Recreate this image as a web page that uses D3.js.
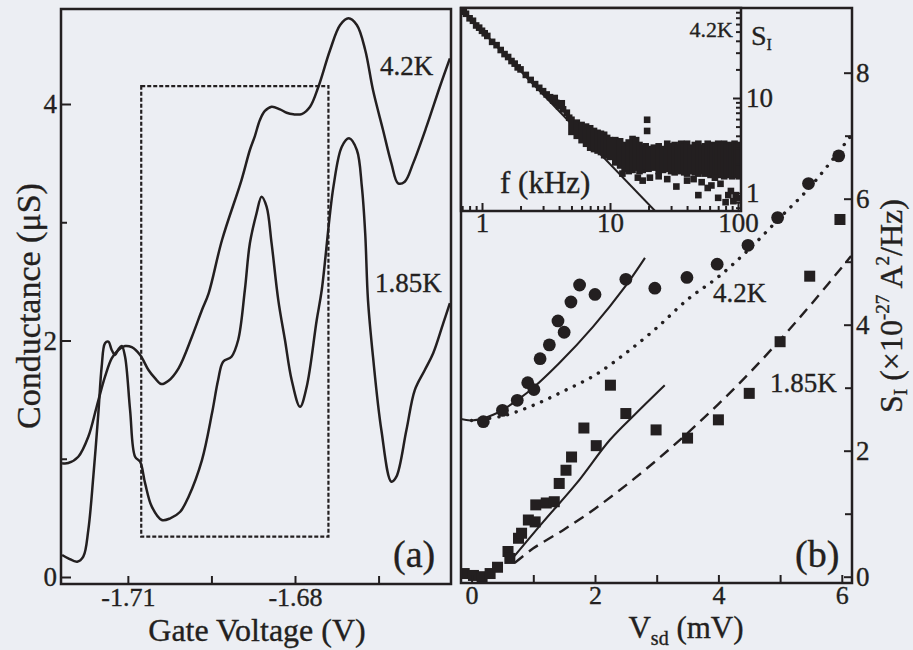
<!DOCTYPE html>
<html>
<head>
<meta charset="utf-8">
<script src="https://cdn.jsdelivr.net/npm/d3@7"></script>
<style>
  html, body { margin: 0; padding: 0; background: #eceef3; }
  svg { display: block; }
  text { font-family: "Liberation Serif", "Times New Roman", Tinos, "DejaVu Serif", serif; fill: #231f20; stroke: #231f20; stroke-width: 0.35px; }
</style>
</head>
<body>
<svg width="913" height="650"></svg>
<script>
// ---- panel (a): conductance vs gate voltage ----
const gate42 = [-1.7218,-1.7207,-1.7189,-1.7171,-1.7156,-1.7141,-1.7129,-1.7117,-1.7105,-1.7093,-1.7078,-1.7063,-1.7051,-1.7040,-1.7027,-1.7009,-1.6985,-1.6967,-1.6955,-1.6931,-1.6896,-1.6881,-1.6872,-1.6863,-1.6854,-1.6842,-1.6827,-1.6815,-1.6803,-1.6788,-1.6773,-1.6758,-1.6737,-1.6719,-1.6704,-1.6689,-1.6674,-1.6660,-1.6642,-1.6627,-1.6615,-1.6603,-1.6588,-1.6564,-1.6540,-1.6522];
const cond42 = [0.962,0.964,1.017,1.186,1.440,1.694,1.849,1.920,1.953,1.943,1.877,1.751,1.680,1.632,1.660,1.765,2.032,2.258,2.399,2.850,3.357,3.611,3.729,3.865,3.941,3.977,3.955,3.926,3.913,3.915,3.977,4.146,4.457,4.668,4.725,4.668,4.457,4.118,3.780,3.498,3.329,3.343,3.498,3.808,4.146,4.386];

const gate185 = [-1.7218,-1.7207,-1.7191,-1.7180,-1.7171,-1.7162,-1.7153,-1.7147,-1.7141,-1.7135,-1.7129,-1.7123,-1.7117,-1.7111,-1.7105,-1.7096,-1.7087,-1.7078,-1.7069,-1.7057,-1.7039,-1.7024,-1.7006,-1.6991,-1.6967,-1.6949,-1.6938,-1.6929,-1.6914,-1.6902,-1.6890,-1.6881,-1.6869,-1.6860,-1.6851,-1.6842,-1.6830,-1.6818,-1.6806,-1.6791,-1.6779,-1.6761,-1.6752,-1.6731,-1.6716,-1.6703,-1.6689,-1.6680,-1.6674,-1.6669,-1.6660,-1.6645,-1.6627,-1.6618,-1.6600,-1.6585,-1.6567,-1.6552,-1.6534,-1.6522];
const cond185 = [0.186,0.158,0.129,0.172,0.397,0.848,1.384,1.778,1.976,1.990,1.920,1.877,1.926,1.953,1.863,1.412,1.017,0.975,0.792,0.595,0.482,0.496,0.552,0.679,0.989,1.384,1.666,1.821,1.863,2.004,2.427,2.822,3.076,3.216,3.132,2.822,2.342,2.004,1.666,1.440,1.609,2.173,2.427,3.301,3.639,3.710,3.611,3.301,2.907,2.342,1.863,1.243,0.806,0.848,1.243,1.581,1.751,1.892,2.145,2.315];

const boxGate = [-1.7076, -1.6740];
const boxCond = [0.341, 4.152];

// ---- panel (b): noise vs source-drain bias ----
const circ42V = [0.19,0.50,0.74,0.91,1.01,1.11,1.26,1.40,1.50,1.61,1.75,2.00,2.50,2.97,3.49,3.98,4.48,4.96,5.46,5.95];
const circ42S = [2.46,2.64,2.80,3.08,2.97,3.46,3.68,4.06,3.88,4.36,4.63,4.48,4.72,4.58,4.75,4.96,5.26,5.70,6.24,6.68];

const sq185V = [-0.12,0.03,0.17,0.30,0.42,0.59,0.62,0.76,0.81,0.92,1.03,1.04,1.21,1.34,1.42,1.53,1.62,1.82,2.02,2.25,2.50,2.99,3.50,4.00,4.50,5.00,5.48,5.97];
const sq185S = [0.05,0.02,0.00,0.05,0.15,0.40,0.29,0.61,0.69,0.90,0.87,1.14,1.17,1.19,1.48,1.69,1.90,2.36,2.08,3.04,2.59,2.33,2.20,2.49,2.91,3.73,4.77,5.67];

const fit42V = [-0.2,0,0.35,0.9,1.43,1.97,2.5,2.81];
const fit42S = [2.51,2.48,2.57,2.92,3.40,3.97,4.62,5.06];
const dot42V = [0,0.5,1.0,1.5,2.0,2.5,3.0,3.5,4.0,4.5,5.0,5.5,6.15];
const dot42S = [2.48,2.55,2.72,2.95,3.2,3.55,3.95,4.4,4.76,5.2,5.7,6.2,7.0];
const fit185V = [0.62,1.16,1.70,2.24,2.65,3.13];
const fit185S = [0.24,0.87,1.48,2.17,2.58,3.04];
const dash185V = [0.7,1.0,1.5,2.0,2.5,3.0,3.5,4.0,4.5,5.0,5.5,6.15];
const dash185S = [0.22,0.45,0.75,1.08,1.45,1.85,2.28,2.74,3.23,3.76,4.32,5.09];

// ---- inset: spectrum at 4.2K ----
const powerF = [0.673, 22.5];
const powerS = [88.6, 0.647];
const insetLowF = [0.68,0.72,0.75,0.8,0.85,0.9,0.95,1.0,1.05,1.1,1.2,1.3,1.4,1.5,1.6,1.7,1.8,1.9,2.0,2.2,2.4,2.6,2.8,3.0,3.2,3.4,3.6,3.7,3.8,4.0,4.2,4.3,4.6,4.8];
const insetLowS = [88,81,77,69,65,58,55,51,48,45,39,36,32,29,27,24.5,23,21,20,17.5,15.5,14,12.8,11.8,10.9,10.2,9.4,10.0,8.9,8.2,8.8,7.6,7.0,6.2];
const bandF = [5,5.5,6,6.5,7,7.5,8,8.5,9,9.5,10,11,12,13,14,15,16,17,18,19,20,22,24,26,28,30,32,34,36,38,40,43,46,49,52,55,58,61,64,67,70,74,78,82,86,90,94,98,102];
const bandHi = [5.9,5.5,5.2,5.0,4.8,4.5,4.3,4.2,4.1,3.8,3.6,3.6,3.5,3.2,3.4,3.7,3.6,3.2,3.0,3.1,2.9,3.0,3.1,2.9,3.3,3.1,3.2,3.0,3.3,3.1,3.3,3.0,3.2,3.3,3.0,3.1,3.3,3.0,3.2,3.1,3.3,3.0,3.3,3.1,3.2,3.0,3.3,3.1,3.2];
const bandLo = [4.4,4.0,3.6,3.3,3.0,2.9,2.8,2.7,2.5,2.5,2.4,2.1,1.95,1.8,1.7,1.75,1.85,1.7,1.75,1.9,1.8,1.85,1.7,1.75,1.8,1.7,1.65,1.75,1.7,1.65,1.6,1.7,1.65,1.6,1.7,1.6,1.65,1.55,1.6,1.7,1.55,1.6,1.5,1.6,1.55,1.5,1.6,1.55,1.5];
const strayF = [19.5,19.5,12.5,16.5,18,20.5,24,28,33,40,45,49,52,58,62,66,70,73,80,84,88,92,96,99];
const strayS = [5.9,4.5,1.6,1.45,1.35,1.45,1.5,1.4,1.17,1.35,1.4,0.95,1.3,1.13,1.2,1.45,0.89,1.25,0.8,0.95,1.05,0.82,0.95,0.88];

const ink = '#231f20';
const $svg = d3.select('svg');
$svg.append('rect').attr('width', 913).attr('height', 650).attr('fill', '#eceef3');

function styleAxis(g, size) {
    g.select('.domain').remove();
    g.attr('font-family', null).attr('font-size', size);
    g.selectAll('.tick line').attr('stroke', ink).attr('stroke-width', 2);
    g.selectAll('.tick text').attr('fill', ink);
}

function addClip(id, f) {
    $svg.append('clipPath').attr('id', id).append('rect')
        .attr('x', f.l).attr('y', f.t).attr('width', f.r - f.l).attr('height', f.b - f.t);
}

// ================= panel (a) =================
const fa = {l: 61, r: 451, t: 9, b: 584};
const xA = d3.scaleLinear().domain([-1.7220, -1.6520]).range([fa.l, fa.r]);
const yA = d3.scaleLinear().domain([0, 4]).range([577, 104]);
addClip('clipA', fa);

const lineA = d3.line().curve(d3.curveCatmullRom.alpha(0.5))
    .x(d => xA(d[0])).y(d => yA(d[1]));
const $a = $svg.append('g');
const $aData = $a.append('g').attr('clip-path', 'url(#clipA)');

$aData.append('rect')
    .attr('x', xA(boxGate[0])).attr('y', yA(boxCond[1]))
    .attr('width', xA(boxGate[1]) - xA(boxGate[0]))
    .attr('height', yA(boxCond[0]) - yA(boxCond[1]))
    .attr('fill', 'none').attr('stroke', ink).attr('stroke-width', 2.2)
    .attr('stroke-dasharray', '4,2');

[[gate42, cond42], [gate185, cond185]].forEach(([g, c]) => {
    $aData.append('path').datum(d3.zip(g, c)).attr('d', lineA)
        .attr('fill', 'none').attr('stroke', ink).attr('stroke-width', 2.5)
        .attr('stroke-linejoin', 'round');
});

$a.append('g').attr('transform', `translate(0,${fa.b})`)
    .call(d3.axisBottom(xA).tickValues([-1.71, -1.695, -1.68, -1.665]).tickSize(-8).tickPadding(4)
        .tickFormat(d => (d === -1.71 || d === -1.68) ? d.toFixed(2) : ''))
    .call(g => styleAxis(g, 26));
$a.append('g').attr('transform', `translate(${fa.l},0)`)
    .call(d3.axisLeft(yA).tickValues([0, 2, 4]).tickSize(-10).tickPadding(4).tickFormat(d3.format('d')))
    .call(g => styleAxis(g, 27));
$a.append('g').attr('transform', `translate(${fa.l},0)`)
    .call(d3.axisLeft(yA).tickValues([1, 3]).tickSize(-6).tickFormat(''))
    .call(g => styleAxis(g, 27));

$a.append('rect').attr('x', fa.l).attr('y', fa.t).attr('width', fa.r - fa.l).attr('height', fa.b - fa.t)
    .attr('fill', 'none').attr('stroke', ink).attr('stroke-width', 2.5);

$a.append('text').attr('x', 380).attr('y', 75).attr('font-size', 27).text('4.2K');
$a.append('text').attr('x', 375).attr('y', 292).attr('font-size', 27).text('1.85K');
$a.append('text').attr('x', 393).attr('y', 567).attr('font-size', 38).text('(a)');
$a.append('text').attr('x', 257).attr('y', 641).attr('font-size', 32)
    .attr('text-anchor', 'middle').text('Gate Voltage (V)');
$a.append('text').attr('transform', 'translate(40,306) rotate(-90)').attr('font-size', 34)
    .attr('text-anchor', 'middle').text('Conductance (\u03bcS)');

// ================= panel (b) =================
const fb = {l: 461, r: 852, t: 8, b: 583};
const xB = d3.scaleLinear().domain([0, 6]).range([471.6, 841.8]);
const yB = d3.scaleLinear().domain([0, 8]).range([576.7, 72.7]);
addClip('clipB', fb);

const lineB = d3.line().curve(d3.curveCatmullRom.alpha(0.5))
    .x(d => xB(d[0])).y(d => yB(d[1]));
const $b = $svg.append('g');
const $bData = $b.append('g').attr('clip-path', 'url(#clipB)');

$bData.append('path').datum(d3.zip(dot42V, dot42S)).attr('d', lineB)
    .attr('fill', 'none').attr('stroke', ink).attr('stroke-width', 3.4)
    .attr('stroke-linecap', 'round').attr('stroke-dasharray', '0.1,9');
$bData.append('path').datum(d3.zip(dash185V, dash185S)).attr('d', lineB)
    .attr('fill', 'none').attr('stroke', ink).attr('stroke-width', 2.4)
    .attr('stroke-dasharray', '11,7');
[[fit42V, fit42S], [fit185V, fit185S]].forEach(([v, s]) => {
    $bData.append('path').datum(d3.zip(v, s)).attr('d', lineB)
        .attr('fill', 'none').attr('stroke', ink).attr('stroke-width', 2.1);
});

$bData.selectAll('circle.c42').data(d3.zip(circ42V, circ42S)).join('circle')
    .attr('class', 'c42')
    .attr('cx', d => xB(d[0])).attr('cy', d => yB(d[1])).attr('r', 6.4).attr('fill', ink);
$bData.selectAll('rect.s185').data(d3.zip(sq185V, sq185S)).join('rect')
    .attr('class', 's185')
    .attr('x', d => xB(d[0]) - 5.5).attr('y', d => yB(d[1]) - 5.5)
    .attr('width', 11).attr('height', 11).attr('fill', ink);

$b.append('g').attr('transform', `translate(0,${fb.b})`)
    .call(d3.axisBottom(xB).tickValues([0, 2, 4, 6]).tickSize(-8).tickPadding(3).tickFormat(d3.format('d')))
    .call(g => styleAxis(g, 26));
$b.append('g').attr('transform', `translate(0,${fb.b})`)
    .call(d3.axisBottom(xB).tickValues([1, 3, 5]).tickSize(-8).tickFormat(''))
    .call(g => styleAxis(g, 26));
$b.append('g').attr('transform', `translate(${fb.r},0)`)
    .call(d3.axisRight(yB).tickValues([0, 2, 4, 6, 8]).tickSize(-8).tickPadding(4).tickFormat(d3.format('d')))
    .call(g => styleAxis(g, 27));
$b.append('g').attr('transform', `translate(${fb.r},0)`)
    .call(d3.axisRight(yB).tickValues([1, 3, 5, 7]).tickSize(-7).tickFormat(''))
    .call(g => styleAxis(g, 27));

$b.append('rect').attr('x', fb.l).attr('y', fb.t).attr('width', fb.r - fb.l).attr('height', fb.b - fb.t)
    .attr('fill', 'none').attr('stroke', ink).attr('stroke-width', 2.5);

$b.append('text').attr('x', 713).attr('y', 302).attr('font-size', 27).text('4.2K');
$b.append('text').attr('x', 770).attr('y', 392).attr('font-size', 27).text('1.85K');
$b.append('text').attr('x', 795).attr('y', 567).attr('font-size', 38).text('(b)');

const vsd = $b.append('text').attr('x', 686).attr('y', 638).attr('font-size', 31).attr('text-anchor', 'middle');
vsd.append('tspan').text('V');
vsd.append('tspan').attr('font-size', 20).attr('dy', 7).text('sd');
vsd.append('tspan').attr('dy', -7).text(' (mV)');

const sLab = $b.append('text').attr('transform', 'translate(902,306) rotate(-90)')
    .attr('font-size', 32).attr('text-anchor', 'middle');
sLab.append('tspan').text('S');
sLab.append('tspan').attr('font-size', 19).attr('dy', 5).text('I');
sLab.append('tspan').attr('dy', -5).text(' (\u00d710');
sLab.append('tspan').attr('font-size', 19).attr('dy', -13).text('-27');
sLab.append('tspan').attr('dy', 13).text(' A');
sLab.append('tspan').attr('font-size', 19).attr('dy', -13).text('2');
sLab.append('tspan').attr('dy', 13).text('/Hz)');

// ================= inset =================
const fi = {l: 461, r: 741, t: 8, b: 211};
const xI = d3.scaleLog().domain([1, 100]).range([482, 738]);
const yI = d3.scaleLog().domain([1, 10]).range([193, 98]);
addClip('clipI', fi);

const $i = $svg.append('g');
$i.append('rect').attr('x', fi.l).attr('y', fi.t).attr('width', fi.r - fi.l).attr('height', fi.b - fi.t)
    .attr('fill', '#eceef3');
const $iData = $i.append('g').attr('clip-path', 'url(#clipI)');

$iData.append('path').datum(d3.zip(powerF, powerS))
    .attr('d', d3.line().x(d => xI(d[0])).y(d => yI(d[1])))
    .attr('fill', 'none').attr('stroke', ink).attr('stroke-width', 2);

const sq = 6.6;
$iData.selectAll('rect.low').data(d3.zip(insetLowF, insetLowS)).join('rect')
    .attr('class', 'low')
    .attr('x', d => xI(d[0]) - sq / 2).attr('y', d => yI(d[1]) - sq / 2)
    .attr('width', sq).attr('height', sq).attr('fill', ink);
$iData.selectAll('rect.band').data(d3.zip(bandF, bandHi, bandLo)).join('rect')
    .attr('class', 'band')
    .attr('x', d => xI(d[0]) - sq / 2).attr('y', d => yI(d[1]) - sq / 2)
    .attr('width', sq).attr('height', d => yI(d[2]) - yI(d[1]) + sq).attr('fill', ink);
$iData.selectAll('rect.stray').data(d3.zip(strayF, strayS)).join('rect')
    .attr('class', 'stray')
    .attr('x', d => xI(d[0]) - sq / 2).attr('y', d => yI(d[1]) - sq / 2)
    .attr('width', sq).attr('height', sq).attr('fill', ink);

const minorF = [0.7, 0.8, 0.9, 2, 3, 4, 5, 6, 7, 8, 9, 20, 30, 40, 50, 60, 70, 80, 90];
const minorS = [0.7, 0.8, 0.9, 2, 3, 4, 5, 6, 7, 8, 9, 20, 30, 40, 50, 60, 70, 80];

$i.append('g').attr('transform', `translate(0,${fi.b})`)
    .call(d3.axisBottom(xI).tickValues([1, 10, 100]).tickSize(-8).tickPadding(2).tickFormat(d3.format('d')))
    .call(g => styleAxis(g, 27));
$i.append('g').attr('transform', `translate(0,${fi.b})`)
    .call(d3.axisBottom(xI).tickValues(minorF).tickSize(-5).tickFormat(''))
    .call(g => styleAxis(g, 27));
$i.append('g').attr('transform', `translate(${fi.r},0)`)
    .call(d3.axisRight(yI).tickValues([1, 10]).tickSize(-8).tickPadding(5).tickFormat(d3.format('d')))
    .call(g => styleAxis(g, 27));
$i.append('g').attr('transform', `translate(${fi.r},0)`)
    .call(d3.axisRight(yI).tickValues(minorS).tickSize(-5).tickFormat(''))
    .call(g => styleAxis(g, 27));

$i.append('rect').attr('x', fi.l).attr('y', fi.t).attr('width', fi.r - fi.l).attr('height', fi.b - fi.t)
    .attr('fill', 'none').attr('stroke', ink).attr('stroke-width', 2.5);

$i.append('text').attr('x', 733).attr('y', 37).attr('font-size', 22).attr('text-anchor', 'end').text('4.2K');
$i.append('text').attr('x', 500).attr('y', 193).attr('font-size', 31).text('f (kHz)');
const si = $i.append('text').attr('x', 751).attr('y', 45).attr('font-size', 28);
si.append('tspan').text('S');
si.append('tspan').attr('font-size', 16).attr('dy', 5).text('I');
</script>
</body>
</html>
